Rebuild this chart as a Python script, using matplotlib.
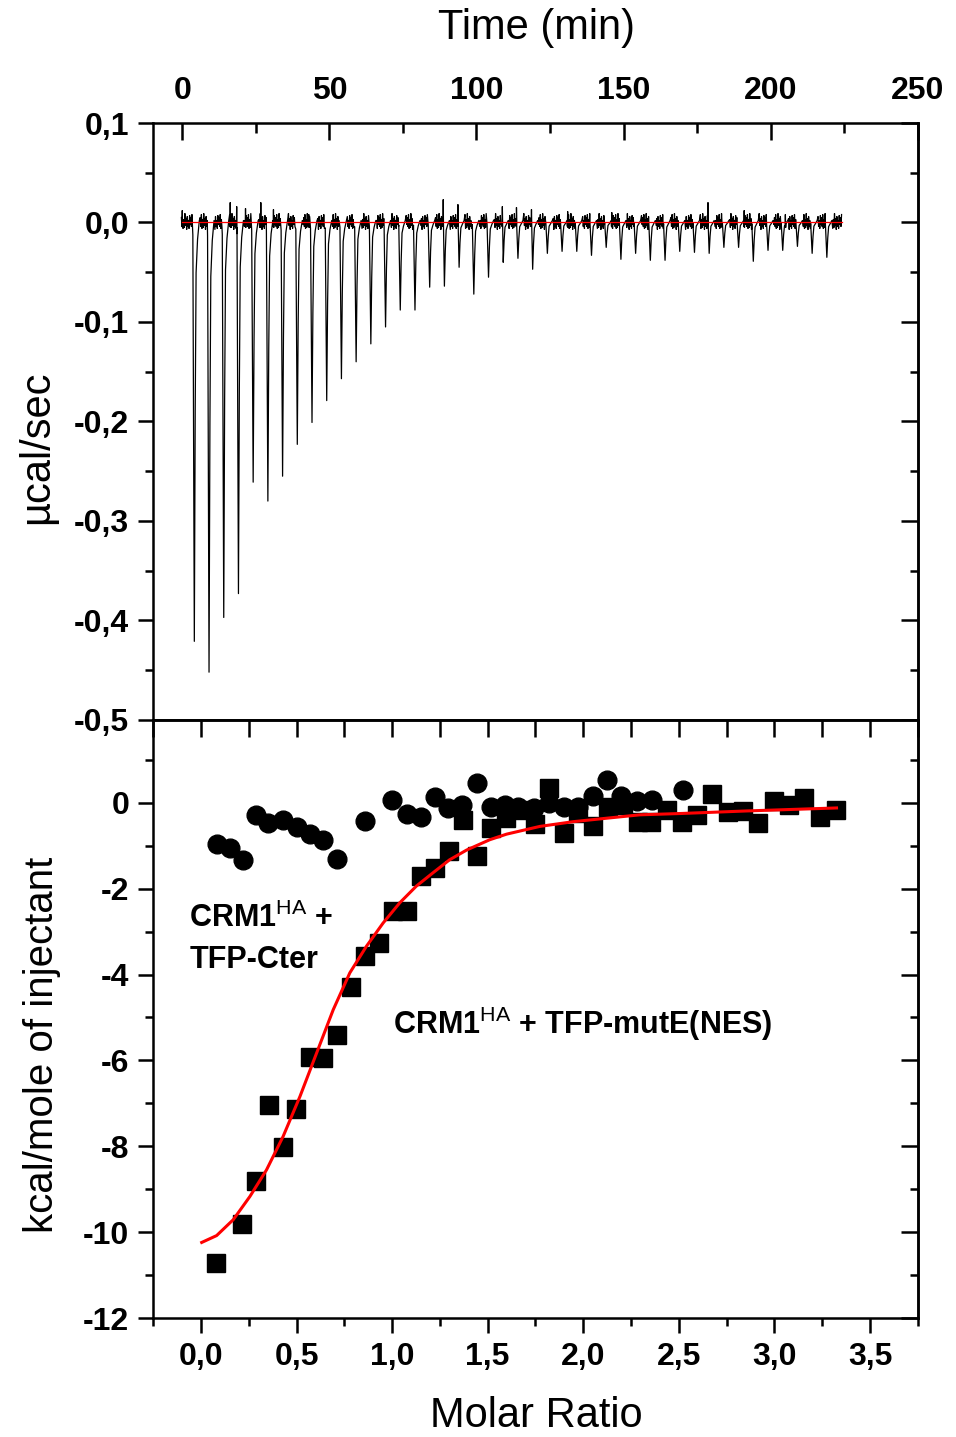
import numpy as np
import matplotlib
matplotlib.use('Agg')
import matplotlib.pyplot as plt
from matplotlib.ticker import MultipleLocator, FuncFormatter

plt.rcParams['font.family'] = ['Liberation Sans', 'DejaVu Sans']
plt.rcParams['mathtext.fontset'] = 'custom'
plt.rcParams['mathtext.rm'] = 'Liberation Sans'
plt.rcParams['mathtext.bf'] = 'Liberation Sans:bold'

# ---- top panel: raw heat trace ----
inj_time = [4.1, 9.1, 14.1, 19.1, 24.1, 29.1, 34.1, 39.1, 44.1, 49.1, 54.1,
            59.1, 64.1, 69.1, 74.1, 79.1, 84.1, 89.1, 94.1, 99.1, 104.1, 109.1,
            114.1, 119.1, 124.1, 129.1, 134.1, 139.1, 144.1, 149.1, 154.1,
            159.1, 164.1, 169.1, 174.1, 179.1, 184.1, 189.1, 194.1, 199.1,
            204.1, 209.1, 214.1, 219.1]
inj_depth = [0.421, 0.452, 0.397, 0.373, 0.261, 0.280, 0.255, 0.223, 0.201,
             0.179, 0.157, 0.140, 0.122, 0.105, 0.088, 0.088, 0.065, 0.064,
             0.045, 0.072, 0.055, 0.040, 0.036, 0.047, 0.031, 0.029, 0.029,
             0.033, 0.025, 0.037, 0.031, 0.038, 0.038, 0.029, 0.030, 0.031,
             0.025, 0.025, 0.039, 0.028, 0.028, 0.024, 0.031, 0.035]
blip_time = [0.0, 16.3, 18.5, 21.5, 26.7, 31.0, 43.0, 88.7, 93.7, 108.8,
             113.6, 118.7, 131.0, 146.0, 178.7, 191.0, 205.0]
blip_height = [0.012, 0.020, 0.016, 0.014, 0.020, 0.013, 0.008, 0.023, 0.018,
               0.016, 0.015, 0.013, 0.011, 0.010, 0.020, 0.012, 0.008]
noise_pattern = [0.005, -0.004, 0.008, -0.006, 0.003, -0.005, 0.009, -0.003,
                 0.004, -0.007, 0.006, -0.004, 0.002, -0.006, 0.007, -0.002]
trace_start, trace_end = -0.3, 224.3

# ---- bottom panel: integrated heats ----
cter_x = [0.082, 0.152, 0.218, 0.288, 0.352, 0.427, 0.500, 0.570, 0.640, 0.713,
          0.858, 1.001, 1.076, 1.149, 1.224, 1.290, 1.365, 1.443, 1.520, 1.590,
          1.660, 1.740, 1.820, 1.900, 1.970, 2.050, 2.125, 2.200, 2.280, 2.360,
          2.520]
cter_y = [-0.96, -1.06, -1.33, -0.28, -0.46, -0.40, -0.57, -0.72, -0.86, -1.31,
          -0.43, 0.07, -0.26, -0.34, 0.13, -0.12, -0.04, 0.47, -0.10, -0.04,
          -0.10, -0.12, 0.00, -0.10, -0.10, 0.17, 0.54, 0.15, 0.05, 0.07, 0.30]
nes_x = [0.078, 0.216, 0.288, 0.357, 0.427, 0.497, 0.570, 0.640, 0.713, 0.785,
         0.858, 0.929, 1.003, 1.076, 1.149, 1.224, 1.299, 1.372, 1.445, 1.520,
         1.595, 1.668, 1.747, 1.822, 1.897, 1.972, 2.052, 2.130, 2.210, 2.287,
         2.357, 2.436, 2.517, 2.596, 2.676, 2.755, 2.835, 2.915, 2.997, 3.075,
         3.156, 3.238, 3.321]
nes_y = [-10.72, -9.82, -8.81, -7.04, -8.01, -7.14, -5.91, -5.95, -5.41, -4.28,
         -3.56, -3.27, -2.53, -2.52, -1.70, -1.52, -1.13, -0.40, -1.25, -0.59,
         -0.35, -0.16, -0.49, 0.35, -0.71, -0.24, -0.53, -0.10, -0.05, -0.44,
         -0.45, -0.16, -0.45, -0.28, 0.20, -0.22, -0.18, -0.47, 0.05, -0.06,
         0.11, -0.32, -0.16]
fit_x = [0.004, 0.082, 0.169, 0.256, 0.343, 0.430, 0.518, 0.605, 0.692, 0.779,
         0.866, 0.953, 1.040, 1.127, 1.214, 1.300, 1.390, 1.511, 1.599, 1.773,
         1.947, 2.120, 2.296, 2.505, 2.854, 3.325]
fit_y = [-10.24, -10.08, -9.71, -9.17, -8.55, -7.77, -6.84, -5.83, -4.82, -3.96,
         -3.34, -2.80, -2.33, -1.94, -1.63, -1.33, -1.10, -0.86, -0.73, -0.55,
         -0.44, -0.36, -0.28, -0.25, -0.19, -0.12]


def build_trace():
    # baseline samples with the repeating wiggle, then peaks and blips spliced in
    grid = np.arange(trace_start, trace_end, 0.2)
    base = np.array([noise_pattern[i % len(noise_pattern)] for i in range(len(grid))])
    keep = np.ones(len(grid), bool)
    for t in inj_time:
        keep &= ~((grid > t - 0.6) & (grid < t + 1.9))
    for t in blip_time:
        keep &= ~((grid > t - 0.2) & (grid < t + 0.2))
    ts = list(grid[keep])
    ys = list(base[keep])
    for t, d in zip(inj_time, inj_depth):
        ts += [t - 0.5, t, t + 0.3, t + 0.6, t + 1.1, t + 1.7]
        ys += [-0.03 * d, -d, -0.45 * d, -0.12 * d, -0.04 * d, 0.002]
    for t, h in zip(blip_time, blip_height):
        ts += [t - 0.1, t, t + 0.1]
        ys += [-0.004, h, -0.005]
    order = np.argsort(ts)
    return np.array(ts)[order], np.array(ys)[order]


def comma(v, pos):
    s = '{:.1f}'.format(v).replace('.', ',')
    if s == '-0,0':
        s = '0,0'
    return s


fig = plt.figure(figsize=(9.56, 14.37), dpi=100)
ax1 = fig.add_axes([0.160, 0.4990, 0.800, 0.4154])
ax2 = fig.add_axes([0.160, 0.0828, 0.800, 0.4162])

lw_sp = 1.8
for ax in (ax1, ax2):
    for sp in ax.spines.values():
        sp.set_linewidth(lw_sp)

# top panel
t, y = build_trace()
ax1.plot(t, y, color='black', lw=0.9)
ax1.plot([0, trace_end], [0, 0], color='red', lw=0.9)
ax1.set_xlim(-9.96, 250)
ax1.set_ylim(-0.5, 0.1)
ax1.xaxis.tick_top()
ax1.xaxis.set_major_locator(MultipleLocator(50))
ax1.xaxis.set_minor_locator(MultipleLocator(25))
ax1.yaxis.set_major_locator(MultipleLocator(0.1))
ax1.yaxis.set_minor_locator(MultipleLocator(0.05))
ax1.yaxis.set_major_formatter(FuncFormatter(comma))
ax1.tick_params(axis='x', which='both', direction='in', top=True, bottom=False,
                labelbottom=False, labeltop=True, width=lw_sp, pad=12)
ax1.tick_params(axis='x', which='major', length=12)
ax1.tick_params(axis='x', which='minor', length=7)
ax1.tick_params(axis='y', which='both', direction='out', right=False, width=lw_sp, pad=6)
ax1.tick_params(axis='y', which='major', length=11)
ax1.tick_params(axis='y', which='minor', length=6)
for lab in ax1.get_xticklabels() + ax1.get_yticklabels():
    lab.set_fontsize(23)
    lab.set_fontweight('bold')

r1 = ax1.secondary_yaxis('right')
r1.yaxis.set_major_locator(MultipleLocator(0.1))
r1.yaxis.set_minor_locator(MultipleLocator(0.05))
r1.tick_params(axis='y', which='both', direction='in', labelright=False, width=lw_sp)
r1.tick_params(axis='y', which='major', length=12)
r1.tick_params(axis='y', which='minor', length=6)
r1.spines['right'].set_linewidth(lw_sp)

# bottom panel
ax2.plot(cter_x, cter_y, 'o', color='black', ms=13.5, zorder=3)
ax2.plot(nes_x, nes_y, 's', color='black', ms=13.5, zorder=4)
ax2.plot(fit_x, fit_y, color='red', lw=2.2, zorder=5)
ax2.set_xlim(-0.251, 3.75)
ax2.set_ylim(-12, 1.93)
ax2.xaxis.set_major_locator(MultipleLocator(0.5))
ax2.xaxis.set_minor_locator(MultipleLocator(0.25))
ax2.xaxis.set_major_formatter(FuncFormatter(comma))
ax2.yaxis.set_major_locator(MultipleLocator(2))
ax2.yaxis.set_minor_locator(MultipleLocator(1))
ax2.yaxis.set_major_formatter(FuncFormatter(lambda v, p: '{:d}'.format(int(round(v)))))
ax2.tick_params(axis='x', which='both', direction='out', top=False, width=lw_sp, pad=6)
ax2.tick_params(axis='x', which='major', length=11)
ax2.tick_params(axis='x', which='minor', length=6)
ax2.tick_params(axis='y', which='both', direction='out', right=False, width=lw_sp, pad=6)
ax2.tick_params(axis='y', which='major', length=11)
ax2.tick_params(axis='y', which='minor', length=6)
for lab in ax2.get_xticklabels() + ax2.get_yticklabels():
    lab.set_fontsize(23)
    lab.set_fontweight('bold')

t2 = ax2.secondary_xaxis('top')
t2.xaxis.set_major_locator(MultipleLocator(0.25))
t2.tick_params(axis='x', which='major', direction='in', length=12, width=lw_sp, labeltop=False)
t2.spines['top'].set_linewidth(lw_sp)
r2 = ax2.secondary_yaxis('right')
r2.yaxis.set_major_locator(MultipleLocator(2))
r2.yaxis.set_minor_locator(MultipleLocator(1))
r2.tick_params(axis='y', which='both', direction='in', labelright=False, width=lw_sp)
r2.tick_params(axis='y', which='major', length=12)
r2.tick_params(axis='y', which='minor', length=6)
r2.spines['right'].set_linewidth(lw_sp)

ax2.text(-0.06, -2.7, r'CRM1$^{\mathrm{HA}}$ +', fontsize=22, fontweight='bold', va='center')
ax2.text(-0.06, -3.65, 'TFP-Cter', fontsize=22, fontweight='bold', va='center')
ax2.text(1.005, -5.15, r'CRM1$^{\mathrm{HA}}$ + TFP-mutE(NES)', fontsize=22,
         fontweight='bold', va='center')

fig.text(536 / 956, 1 - 28 / 1437, 'Time (min)', fontsize=30, ha='center', va='center')
fig.text(536 / 956, 1 - 1416 / 1437, 'Molar Ratio', fontsize=30, ha='center', va='center')
fig.text(37 / 956, 1 - 447 / 1437, u'\u00b5cal/sec', fontsize=30, rotation=90,
         ha='center', va='center')
fig.text(42 / 956, 1 - 1045 / 1437, 'kcal/mole of injectant', fontsize=29,
         rotation=90, ha='center', va='center')

fig.savefig('out.png', dpi=100)
